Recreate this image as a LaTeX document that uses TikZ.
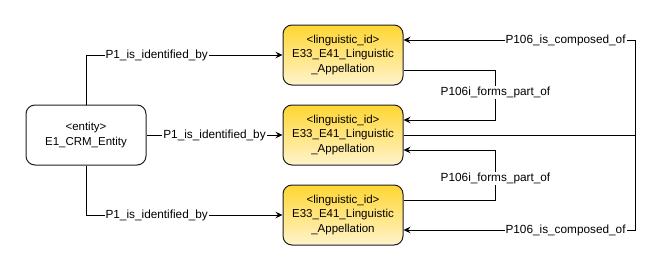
\documentclass[tikz,border=0pt]{standalone}
\usepackage{fontspec}
\setmainfont{Liberation Sans}
\usetikzlibrary{arrows.meta,calc}
\definecolor{gtop}{RGB}{255,214,50}
\definecolor{gbot}{RGB}{255,244,204}
\definecolor{bord}{RGB}{30,30,30}
\begin{document}
\begin{tikzpicture}[x=1pt,y=-1pt,
  ent/.style={draw=bord,line width=1pt,rounded corners=9pt,minimum width=120pt,minimum height=60pt,align=center,inner sep=0pt,font=\fontsize{11.5}{14.3}\selectfont},
  ling/.style={ent,top color=gtop,bottom color=gbot},
  lbl/.style={fill=white,inner sep=1pt,font=\fontsize{11.8}{14}\selectfont},
  conn/.style={draw=black,line width=0.8pt},
  arr/.style={conn,-{Stealth[length=7pt,width=6.5pt,inset=2.5pt]}}]
\useasboundingbox (0,0) rectangle (669,271);
\node[ent] (e) at (86,135) {<entity>\\E1\_CRM\_Entity};
\node[ling] (l1) at (343,55) {<linguistic\_id>\\E33\_E41\_Linguistic\\\_Appellation};
\node[ling] (l2) at (343,135) {<linguistic\_id>\\E33\_E41\_Linguistic\\\_Appellation};
\node[ling] (l3) at (343,215) {<linguistic\_id>\\E33\_E41\_Linguistic\\\_Appellation};
\coordinate (r) at (635,135);
% P1 edges
\draw[arr] (e.north) |- node[lbl,pos=0.68]{P1\_is\_identified\_by} (l1.west);
\draw[arr] (e.east) -- node[lbl,pos=0.5]{P1\_is\_identified\_by} (l2.west);
\draw[arr] (e.south) |- node[lbl,pos=0.68]{P1\_is\_identified\_by} (l3.west);
% composed of
\draw[conn] (l2.east) -- (r);
\draw[arr] (r) |- node[lbl,pos=0.65]{P106\_is\_composed\_of} ([yshift=15pt]l1.east);
\draw[arr] (r) |- node[lbl,pos=0.65]{P106\_is\_composed\_of} ([yshift=-15pt]l3.east);
% forms part of
\draw[arr] ([yshift=-15pt]l1.east) -- ++(92,0) |- node[lbl,pos=0.22]{P106i\_forms\_part\_of} ([yshift=15pt]l2.east);
\draw[arr] ([yshift=15pt]l3.east) -- ++(92,0) |- node[lbl,pos=0.22]{P106i\_forms\_part\_of} ([yshift=-15pt]l2.east);
\end{tikzpicture}
\end{document}
